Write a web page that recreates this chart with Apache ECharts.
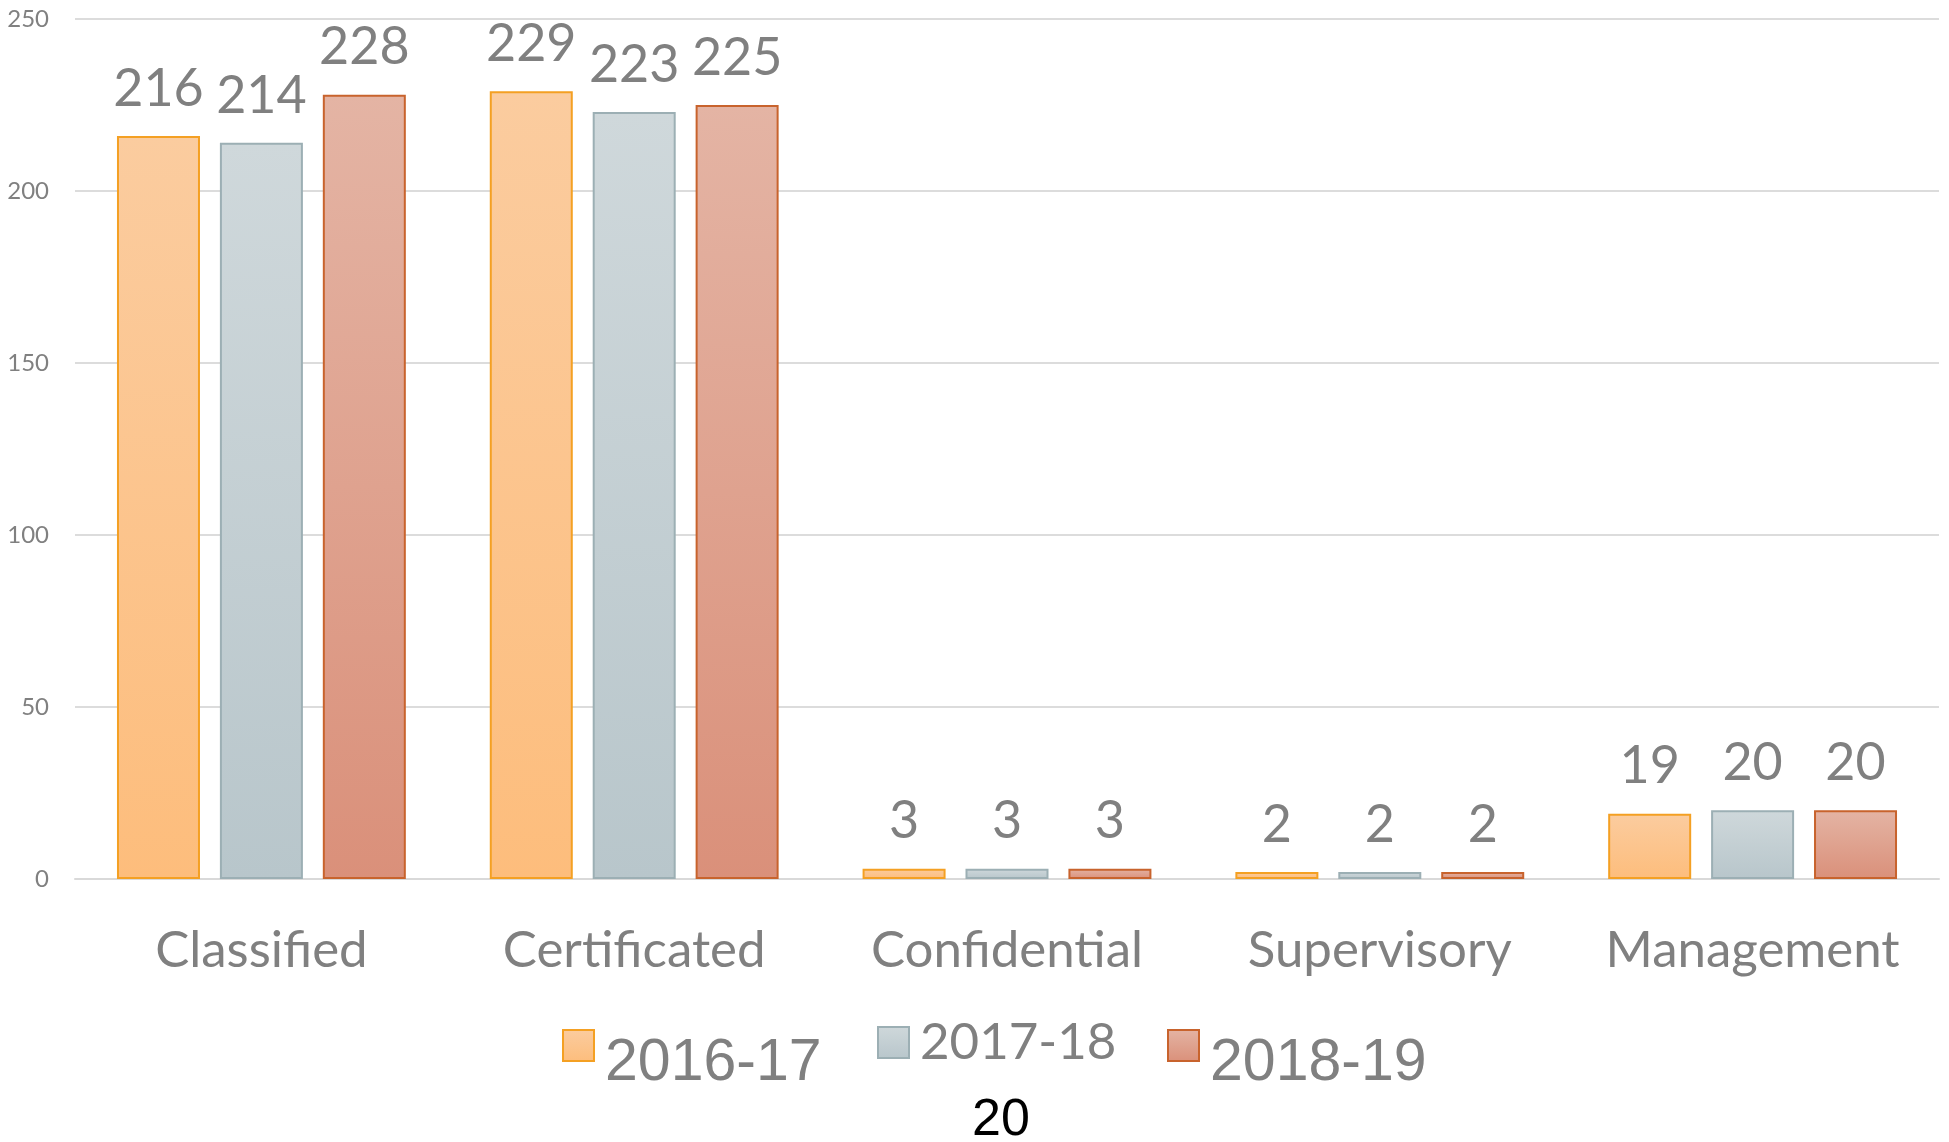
<!DOCTYPE html>
<html>
<head>
<meta charset="utf-8">
<title>Staff by group</title>
<script src="https://cdn.jsdelivr.net/npm/echarts@6/dist/echarts.min.js"></script>
<style>
  html, body { margin: 0; padding: 0; background: #fff; }
  #chart { width: 1949px; height: 1142px; }
</style>
</head>
<body>
<div id="chart"></div>
<script>
// data
const categories = ['Classified', 'Certificated', 'Confidential', 'Supervisory', 'Management'];
const seriesNames = ['2016-17', '2017-18', '2018-19'];
const values1617 = [216, 229, 3, 2, 19];
const values1718 = [214, 223, 3, 2, 20];
const values1819 = [228, 225, 3, 2, 20];
const yMin = 0;
const yMax = 250;
const yStep = 50;
const pageNumber = '20';

const gillFont = "'Gill Sans', Lato, sans-serif";
const arialFont = "'Liberation Sans', Arial, sans-serif";
const textGray = '#808080';

// top -> bottom gradient, plus outline colour, one per series
const fills = [
  { top: '#fbcc9f', bottom: '#fdbd7c', border: '#f4a023' },
  { top: '#cfd8db', bottom: '#b8c6cb', border: '#9cafb4' },
  { top: '#e4b4a4', bottom: '#da907a', border: '#c8632d' },
];

function grad(c) {
  return new echarts.graphic.LinearGradient(0, 0, 0, 1, [
    { offset: 0, color: c.top },
    { offset: 1, color: c.bottom },
  ]);
}

function makeBar(name, data, c) {
  return {
    name: name,
    type: 'bar',
    data: data,
    barWidth: 83,
    barGap: '24%',
    itemStyle: { color: grad(c), borderColor: c.border, borderWidth: 2 },
    label: {
      show: true,
      position: 'top',
      distance: 21,
      color: textGray,
      fontFamily: gillFont,
      fontSize: 52,
    },
  };
}

// the legend texts sit at different heights in the original slide
function legendBox(name, left, top, font, size, dropText) {
  return {
    data: [name],
    left: left,
    top: top,
    padding: 0,
    itemWidth: 31,
    itemHeight: 31,
    icon: 'rect',
    formatter: '{t|{name}}',
    textStyle: {
      rich: {
        t: { color: textGray, fontFamily: font, fontSize: size, padding: [dropText, 0, 0, 6] },
      },
    },
  };
}

const chart = echarts.init(document.getElementById('chart'));
const option = {
  animation: false,
  backgroundColor: '#fff',
  title: {
    text: pageNumber,
    left: 972,
    top: 1095,
    padding: 0,
    textStyle: { color: '#000', fontFamily: arialFont, fontSize: 52, fontWeight: 'normal' },
  },
  grid: { left: 75, right: 10, top: 19, bottom: 263 },
  legend: [
    legendBox(seriesNames[0], 562, 1029, arialFont, 59, 36),
    legendBox(seriesNames[1], 877, 1017, gillFont, 51, 0),
    legendBox(seriesNames[2], 1167, 1029, arialFont, 59, 36),
  ],
  xAxis: {
    type: 'category',
    data: categories,
    axisTick: { show: false },
    axisLine: { lineStyle: { color: '#d9d9d9', width: 2 } },
    axisLabel: { interval: 0, color: textGray, fontFamily: gillFont, fontSize: 51, margin: 46 },
  },
  yAxis: {
    type: 'value',
    min: yMin,
    max: yMax,
    interval: yStep,
    axisLine: { show: false },
    axisTick: { show: false },
    splitLine: { lineStyle: { color: '#dcdcdc', width: 2 } },
    axisLabel: { color: textGray, fontFamily: gillFont, fontSize: 24, margin: 26 },
  },
  series: [
    makeBar(seriesNames[0], values1617, fills[0]),
    makeBar(seriesNames[1], values1718, fills[1]),
    makeBar(seriesNames[2], values1819, fills[2]),
  ],
};
chart.setOption(option);
</script>
</body>
</html>
